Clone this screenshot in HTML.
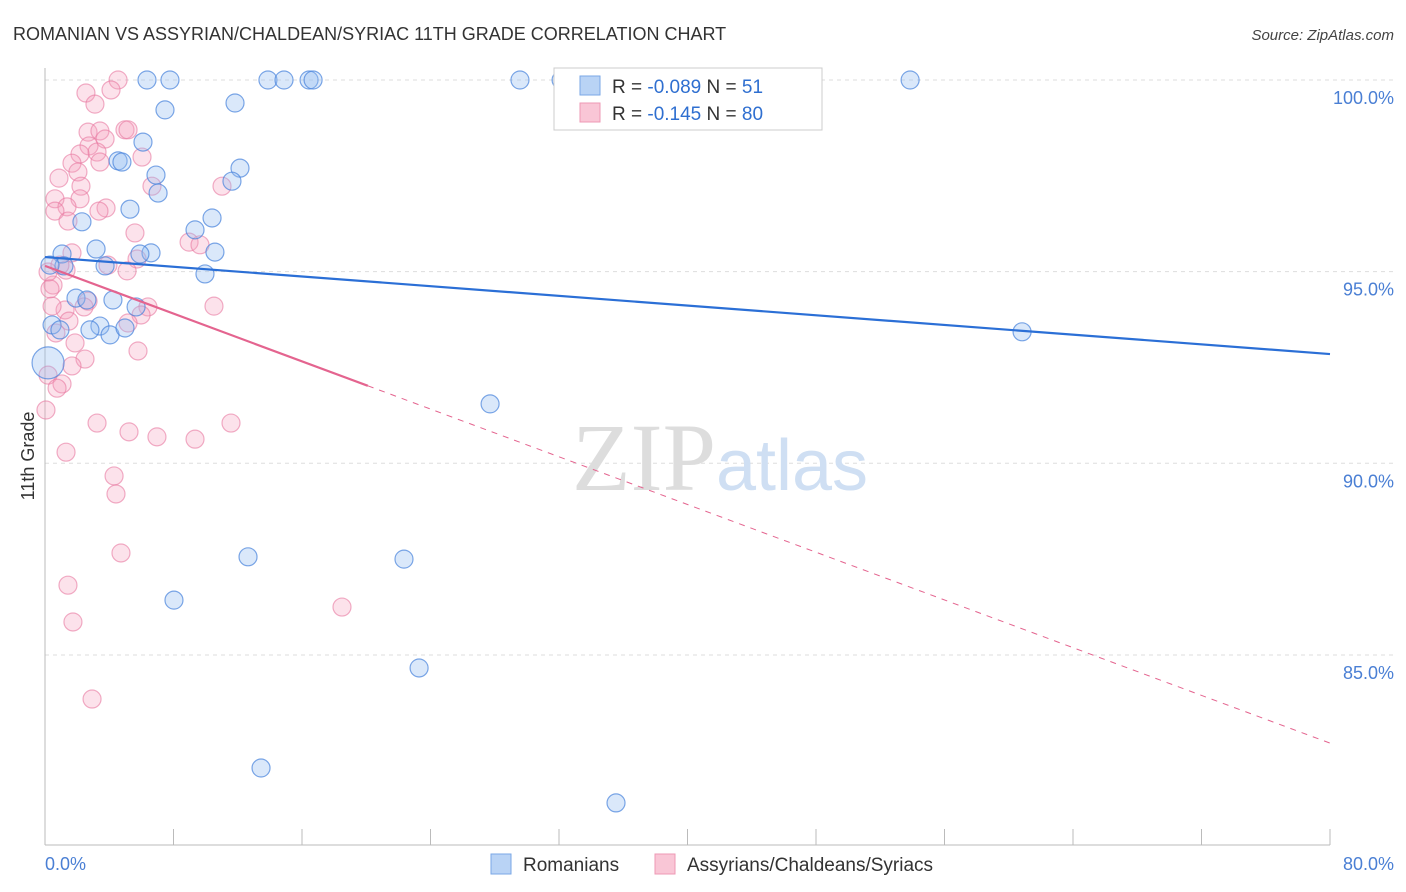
<!DOCTYPE html>
<html><head><meta charset="utf-8"><style>
body{margin:0;background:#fff;font-family:"Liberation Sans",sans-serif;}
svg{display:block}
</style></head><body>
<svg id="chart" width="1406" height="892" viewBox="0 0 1406 892" font-family="Liberation Sans, sans-serif">
<text x="13" y="40" font-size="18" fill="#333">ROMANIAN VS ASSYRIAN/CHALDEAN/SYRIAC 11TH GRADE CORRELATION CHART</text>
<text x="1394" y="40" font-size="15" fill="#444" text-anchor="end" font-style="italic">Source: ZipAtlas.com</text>
<g id="grid"></g>
<text x="720" y="490" font-size="96" text-anchor="middle" fill="#ddd" font-family="Liberation Serif, serif">ZIP<tspan fill="#cfdff3" font-family="Liberation Sans, sans-serif" font-size="72">atlas</tspan></text>
<line x1="45" y1="68" x2="45" y2="845" stroke="#bbb"/>
<line x1="45" y1="845" x2="1330" y2="845" stroke="#bbb"/>
<g id="xticks"></g>
<g id="ylabels"></g>
<text x="45" y="870" font-size="18" fill="#4a7fd4">0.0%</text>
<text x="1394" y="870" font-size="18" fill="#4a7fd4" text-anchor="end">80.0%</text>
<text transform="translate(34,456) rotate(-90)" font-size="18" fill="#333" text-anchor="middle">11th Grade</text>
<g id="pink"></g>
<g id="blue"></g>
<g id="lines"></g>
<g>
<rect x="554" y="68" width="268" height="62" fill="#fff" stroke="#ccc"/>
<rect x="580" y="76" width="20" height="19" fill="#b9d3f5" stroke="#7aa7e6"/>
<rect x="580" y="103" width="20" height="19" fill="#f9c6d6" stroke="#ee98b4"/>
<text x="612" y="93" font-size="19" fill="#333">R = <tspan fill="#2f6fd0">-0.089</tspan>   N = <tspan fill="#2f6fd0">51</tspan></text>
<text x="612" y="120" font-size="19" fill="#333">R =  <tspan fill="#2f6fd0">-0.145</tspan>   N = <tspan fill="#2f6fd0">80</tspan></text>
</g>
<g>
<rect x="491" y="854" width="20" height="20" fill="#b9d3f5" stroke="#7aa7e6"/>
<text x="523" y="871" font-size="19" fill="#333">Romanians</text>
<rect x="655" y="854" width="20" height="20" fill="#f9c6d6" stroke="#ee98b4"/>
<text x="687" y="871" font-size="19" fill="#333">Assyrians/Chaldeans/Syriacs</text>
</g>
</svg>
<script>
const yTicks=[100,95,90,85];
const yTickLabels=["100.0%","95.0%","90.0%","85.0%"];
const xTicks=[0,8,16,24,32,40,48,56,64,72,80];
const blueX=[6.35,7.78,13.88,14.88,16.44,16.69,29.57,32.13,53.86,7.47,11.83,6.10,4.55,4.79,6.91,12.14,11.64,7.04,5.29,10.40,2.30,9.34,3.18,6.60,5.91,10.58,1.06,3.74,9.96,1.18,1.93,4.23,5.67,3.42,2.80,4.05,4.98,0.44,0.19,60.83,27.71,12.64,22.35,8.03,23.29,13.45,35.55,2.61,0.93,0.31];
const blueY=[100,100,100,100,100,100,100,100,100,99.22,99.40,98.38,97.89,97.86,97.52,97.70,97.36,97.05,96.63,96.40,96.30,96.09,95.59,95.49,95.46,95.51,95.46,95.15,94.94,95.15,94.31,94.26,94.08,93.58,93.48,93.35,93.53,93.61,92.62,93.43,91.55,87.56,87.50,86.43,84.66,82.05,81.14,94.26,93.48,95.17];
const pinkX=[4.55,2.55,4.11,3.11,4.98,2.68,3.42,5.17,3.74,2.74,3.24,2.18,6.04,1.68,2.05,2.24,0.87,6.66,11.02,0.62,2.18,3.80,1.37,0.62,3.36,1.43,5.60,8.97,9.65,1.68,5.73,3.92,1.31,5.11,0.50,0.19,2.68,6.41,10.52,1.25,2.43,5.98,5.17,1.49,0.68,1.87,5.79,2.49,1.68,0.19,1.06,0.75,0.06,1.31,3.24,5.23,6.97,9.34,11.58,4.30,4.42,4.73,1.43,18.49,1.74,2.93,0.44,0.31,0.93,3.42];
const pinkY=[100,99.66,99.74,99.37,98.70,98.64,98.67,98.70,98.46,98.28,98.12,98.07,97.99,97.83,97.60,97.23,97.44,97.23,97.23,96.90,96.90,96.66,96.69,96.58,96.58,96.32,96.01,95.77,95.70,95.49,95.33,95.17,95.04,95.02,94.65,94.99,94.23,94.08,94.10,94.00,94.08,93.87,93.66,93.71,93.40,93.14,92.93,92.72,92.54,92.30,92.07,91.96,91.39,90.29,91.05,90.82,90.69,90.63,91.05,89.67,89.20,87.66,86.82,86.25,85.86,83.85,94.10,94.55,95.17,97.86];
const blueTrend=[95.38,92.85];
const pinkTrend=[95.15,82.70];
const pinkSolidEnd=20.1;
const NS="http://www.w3.org/2000/svg";
const xs=v=>45+v/80*1285;
const ys=v=>80+(100-v)*38.33;
function mk(tag,attrs,parent){const e=document.createElementNS(NS,tag);for(const k in attrs)e.setAttribute(k,attrs[k]);parent.appendChild(e);return e;}
const grid=document.getElementById('grid'),yl=document.getElementById('ylabels');
yTicks.forEach((t,i)=>{
  const l=mk('line',{x1:45,x2:1394,y1:ys(t),y2:ys(t),stroke:'#ddd','stroke-dasharray':'4,4'},grid);
  
  
  const tx=mk('text',{x:1394,y:ys(t)+24,'font-size':18,fill:'#4a7fd4','text-anchor':'end'},yl);
  tx.textContent=yTickLabels[i];
  
  
});
const xt=document.getElementById('xticks');
xTicks.forEach(t=>{
  const l=mk('line',{x1:xs(t),x2:xs(t),y1:829,y2:845,stroke:'#bbb'},xt);
  
  
});
const pg=document.getElementById('pink');
pinkX.forEach((x,i)=>{
  const c=mk('circle',{cx:xs(x),cy:ys(pinkY[i]),r:9,fill:'rgba(244,160,188,0.3)',stroke:'rgba(232,120,160,0.6)','stroke-width':1.2},pg);
  
  
});
const bg=document.getElementById('blue');
blueX.forEach((x,i)=>{
  const r=(i===38)?16:9;
  const c=mk('circle',{cx:xs(x),cy:ys(blueY[i]),r:r,fill:'rgba(150,190,240,0.35)',stroke:'rgba(70,130,220,0.7)','stroke-width':1.2},bg);
  
  
});
const lg=document.getElementById('lines');
const bl=mk('line',{x1:xs(0),y1:ys(blueTrend[0]),x2:xs(80),y2:ys(blueTrend[1]),stroke:'#2b6fd6','stroke-width':2.2},lg);


const py=v=>pinkTrend[0]+(pinkTrend[1]-pinkTrend[0])*v/80;
const ps=mk('line',{x1:xs(0),y1:ys(py(0)),x2:xs(pinkSolidEnd),y2:ys(py(pinkSolidEnd)),stroke:'#e4648f','stroke-width':2.2},lg);


const pd=mk('line',{x1:xs(pinkSolidEnd),y1:ys(py(pinkSolidEnd)),x2:xs(80),y2:ys(py(80)),stroke:'#e4648f','stroke-width':1,'stroke-dasharray':'6,6'},lg);


</script>
</body></html>
